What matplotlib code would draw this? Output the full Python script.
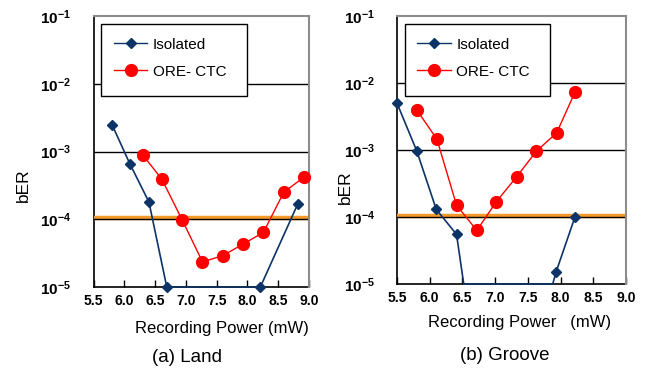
import matplotlib
matplotlib.use("Agg")
import matplotlib.pyplot as plt
from matplotlib.patches import Rectangle
from matplotlib.lines import Line2D

plt.rcParams["font.family"] = ["Liberation Sans", "DejaVu Sans"]
plt.rcParams["mathtext.fontset"] = "custom"
plt.rcParams["mathtext.rm"] = "Liberation Sans"
plt.rcParams["mathtext.bf"] = "Liberation Sans:bold"

# Land data
land_iso_x = [5.80, 6.09, 6.40, 6.69, 8.21, 8.82]
land_iso_y = [2.5e-3, 6.6e-4, 1.8e-4, 1e-5, 1e-5, 1.7e-4]
land_ctc_x = [6.30, 6.61, 6.94, 7.27, 7.60, 7.93, 8.26, 8.59, 8.92]
land_ctc_y = [8.9e-4, 3.9e-4, 9.8e-5, 2.35e-5, 2.9e-5, 4.3e-5, 6.4e-5, 2.5e-4, 4.2e-4]

# Groove data
groove_iso_x = [5.50, 5.80, 6.10, 6.41, 6.52, 7.88, 7.93, 8.22]
groove_iso_y = [5.0e-3, 9.8e-4, 1.3e-4, 5.5e-5, 1e-5, 1e-5, 1.5e-5, 1.0e-4]
groove_iso_marks = [0, 1, 2, 3, 6, 7]
groove_ctc_x = [5.80, 6.11, 6.41, 6.72, 7.02, 7.33, 7.63, 7.94, 8.22]
groove_ctc_y = [4.0e-3, 1.45e-3, 1.5e-4, 6.3e-5, 1.7e-4, 4.0e-4, 9.6e-4, 1.8e-3, 7.3e-3]

x_ticks = [5.5, 6.0, 6.5, 7.0, 7.5, 8.0, 8.5, 9.0]
y_ticks = [1e-5, 1e-4, 1e-3, 1e-2, 1e-1]
y_tick_labels = [r"$\mathbf{10^{-5}}$", r"$\mathbf{10^{-4}}$", r"$\mathbf{10^{-3}}$",
                 r"$\mathbf{10^{-2}}$", r"$\mathbf{10^{-1}}$"]
threshold = 1.05e-4

navy = "#0d3466"
red = "#ff0000"
W, H = 645, 369

fig = plt.figure(figsize=(6.45, 3.69), dpi=100)


def make_axes(box, iso_x, iso_y, ctc_x, ctc_y, iso_marks=None):
    x0, x1, y0, y1 = box
    ax = fig.add_axes([x0 / W, 1 - y1 / H, (x1 - x0) / W, (y1 - y0) / H])
    ax.set_yscale("log")
    ax.set_xlim(5.5, 9.0)
    ax.set_ylim(1e-5, 1e-1)
    for g in [1e-4, 1e-3, 1e-2]:
        ax.axhline(g, color="black", lw=1.0, zorder=2)
    ax.axhline(threshold, color="#f39a2a", lw=3.2, zorder=1.5)
    ax.plot(iso_x, iso_y, color=navy, lw=1.2, marker="D", ms=5.5,
            markevery=iso_marks, clip_on=False, zorder=4)
    ax.plot(ctc_x, ctc_y, color=red, lw=1.0, marker="o", ms=8.5,
            clip_on=False, zorder=3)
    ax.set_xticks(x_ticks)
    ax.set_xticklabels([f"{t:.1f}" for t in x_ticks], fontsize=10, fontweight="bold")
    ax.set_yticks(y_ticks)
    ax.set_yticklabels(y_tick_labels, fontsize=11)
    ax.minorticks_off()
    ax.tick_params(axis="x", direction="in", length=5, width=1, pad=5)
    ax.tick_params(axis="y", length=0, pad=16)
    for s in ["top", "right"]:
        ax.spines[s].set_color("#8c8c8c")
        ax.spines[s].set_linewidth(1.5)
    for s in ["left", "bottom"]:
        ax.spines[s].set_linewidth(1.2)
        ax.spines[s].set_zorder(1)
    # legend box
    lx0, lx1, ly0, ly1 = (box[0] + 7.5), (box[0] + 153), 24, 96
    ax.add_patch(Rectangle(((lx0 - x0) / (x1 - x0), (y1 - ly1) / (y1 - y0)),
                           (lx1 - lx0) / (x1 - x0), (ly1 - ly0) / (y1 - y0),
                           transform=ax.transAxes, facecolor="white",
                           edgecolor="black", lw=1.0, zorder=5))
    handles = [Line2D([], [], color=navy, lw=1.0, marker="D", ms=5.5),
               Line2D([], [], color=red, lw=1.0, marker="o", ms=8.5)]
    ax.legend(handles, ["Isolated", "ORE- CTC"], loc="upper left",
              bbox_to_anchor=((lx0 + 2 - x0) / (x1 - x0), (y1 - 27) / (y1 - y0)),
              frameon=False, fontsize=11, handlelength=2.2, handletextpad=0.35,
              labelspacing=0.85, borderpad=0.2).set_zorder(6)
    return ax


ax1 = make_axes((93.5, 309, 16, 287), land_iso_x, land_iso_y, land_ctc_x, land_ctc_y)
ax2 = make_axes((397, 626, 16, 284), groove_iso_x, groove_iso_y, groove_ctc_x,
                groove_ctc_y, groove_iso_marks)

fig.text(23 / W, 1 - 185 / H, "bER", rotation=90, ha="center", va="center", fontsize=12.5)
fig.text(345 / W, 1 - 187 / H, "bER", rotation=90, ha="center", va="center", fontsize=12.5)
fig.text(222 / W, 1 - 328 / H, "Recording Power (mW)", ha="center", va="center", fontsize=12)
fig.text(520 / W, 1 - 322 / H, "Recording Power   (mW)", ha="center", va="center", fontsize=12)
fig.text(187 / W, 1 - 358 / H, "(a) Land", ha="center", va="center", fontsize=13.5)
fig.text(505 / W, 1 - 355 / H, "(b) Groove", ha="center", va="center", fontsize=13.5)

fig.savefig("out.png", dpi=100)
